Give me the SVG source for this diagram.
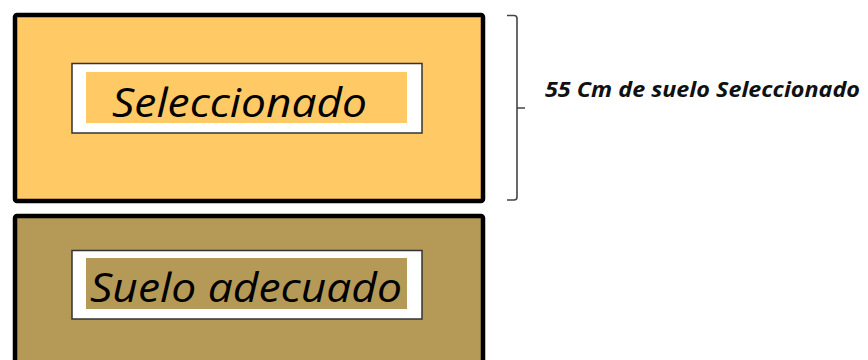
<svg xmlns="http://www.w3.org/2000/svg" width="868" height="360" viewBox="0 0 868 360">
<style>
.outer{stroke:#000;stroke-width:4.5}
.inner{fill:#fff;stroke:#333;stroke-width:1.5}
.lbl{font-family:"Open Sans","Liberation Sans",sans-serif;font-style:italic;font-size:41px;fill:#000}
.note{font-family:"Open Sans","Liberation Sans",sans-serif;font-style:italic;font-weight:bold;font-size:20.5px;fill:#111}
.br{fill:none;stroke:#444;stroke-width:1.6}
</style>
<rect width="868" height="360" fill="#fff"/>
<g id="seleccionado">
<rect class="outer" x="15" y="15" width="468" height="186" rx="2" fill="#FFC966"/>
<rect class="inner" x="72" y="63.5" width="350" height="69.5"/>
<rect x="86" y="72" width="321" height="51" fill="#FFC966"/>
<text class="lbl" x="112" y="117" textLength="255" lengthAdjust="spacingAndGlyphs">Seleccionado</text>
</g>
<g id="suelo-adecuado">
<rect class="outer" x="15" y="216" width="468" height="160" rx="2" fill="#B59A57"/>
<rect class="inner" x="72" y="250.5" width="350" height="68.5"/>
<rect x="86" y="258" width="321" height="51" fill="#B59A57"/>
<text class="lbl" x="90" y="302" textLength="312" lengthAdjust="spacingAndGlyphs">Suelo adecuado</text>
</g>
<g id="connectors">
<path class="br" d="M507 15.5 H514 Q517 15.5 517 18.5 V197 Q517 200 514 200 H507 M517 108 H525"/>
</g>
<g id="nota">
<text class="note" x="545" y="97" textLength="315" lengthAdjust="spacingAndGlyphs">55 Cm de suelo Seleccionado</text>
</g>
</svg>
